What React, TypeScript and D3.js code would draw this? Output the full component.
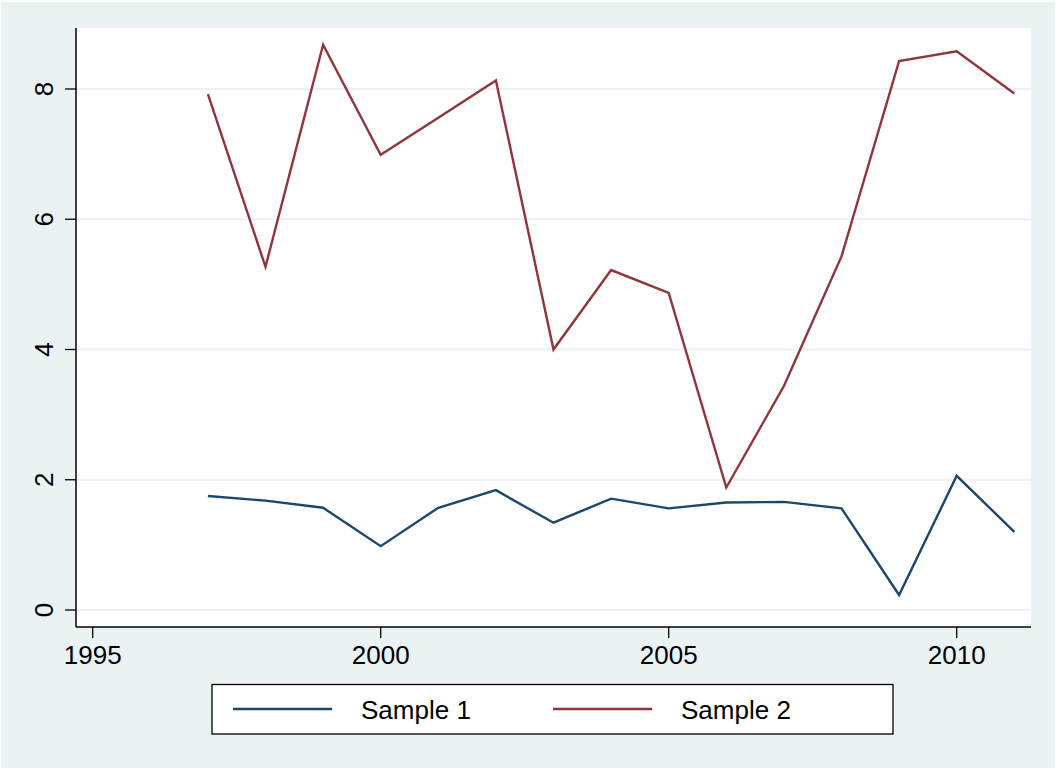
import React from 'react';
import * as d3 from 'd3';

const years = [1997, 1998, 1999, 2000, 2001, 2002, 2003, 2004, 2005, 2006, 2007, 2008, 2009, 2010, 2011];
const sample1 = [1.75, 1.68, 1.57, 0.98, 1.57, 1.84, 1.34, 1.71, 1.56, 1.65, 1.66, 1.56, 0.23, 2.06, 1.2];
const sample2 = [7.92, 5.27, 8.68, 6.99, 7.56, 8.13, 4.0, 5.22, 4.87, 1.88, 3.44, 5.43, 8.43, 8.58, 7.93];
const xTicks = [1995, 2000, 2005, 2010];
const yTicks = [0, 2, 4, 6, 8];
const seriesNames = ['Sample 1', 'Sample 2'];

const colors = ['#1a476f', '#90353b'];
const bg = '#eaf2f3';
const font = '"Liberation Sans", Arial, Helvetica, sans-serif';

const W = 1056;
const H = 769;
// plot region
const plot = { left: 76, right: 1031, top: 28, bottom: 627 };

export default function App() {
  // scale fitted to the axis range shown (1994.7 .. 2011.3, -0.26 .. 8.94)
  const x = d3.scaleLinear().domain([1995, 2010]).range([92.7, 956.7]);
  const y = d3.scaleLinear().domain([0, 8]).range([610, 89]);

  const line = d3.line<number>()
    .x((_, i) => x(years[i]))
    .y(d => y(d));

  const series = [sample1, sample2];

  return (
    <svg width={W} height={H} style={{ position: 'absolute', left: 0, top: 0 }} fontFamily={font}>
      <rect x={0} y={0} width={W} height={H} fill="#fff" />
      <rect x={1} y={2} width={W - 2} height={H - 3} fill={bg} />
      <rect x={plot.left} y={plot.top} width={plot.right - plot.left} height={plot.bottom - plot.top} fill="#fff" />

      {/* grid */}
      {yTicks.map(t => (
        <line key={'g' + t} x1={plot.left} x2={plot.right} y1={y(t)} y2={y(t)} stroke={bg} strokeWidth={2} />
      ))}

      {/* series */}
      {series.map((s, i) => (
        <path key={i} d={line(s) || ''} fill="none" stroke={colors[i]} strokeWidth={2.4} strokeLinejoin="miter" />
      ))}

      {/* y axis */}
      <line x1={plot.left} x2={plot.left} y1={plot.top} y2={plot.bottom} stroke="#000" strokeWidth={1.5} />
      {yTicks.map(t => (
        <g key={'y' + t}>
          <line x1={plot.left - 11} x2={plot.left} y1={y(t)} y2={y(t)} stroke="#000" strokeWidth={1.3} />
          <text transform={`translate(53,${y(t)}) rotate(-90)`} textAnchor="middle" fontSize={26} fill="#000">
            {t}
          </text>
        </g>
      ))}

      {/* x axis */}
      <line x1={plot.left} x2={plot.right} y1={plot.bottom} y2={plot.bottom} stroke="#000" strokeWidth={1.5} />
      {xTicks.map(t => (
        <g key={'x' + t}>
          <line x1={x(t)} x2={x(t)} y1={plot.bottom} y2={plot.bottom + 11} stroke="#000" strokeWidth={1.3} />
          <text x={x(t)} y={664} textAnchor="middle" fontSize={26} fill="#000">
            {t}
          </text>
        </g>
      ))}

      {/* legend */}
      <rect x={212} y={684.5} width={681} height={49.5} fill="#fff" stroke="#000" strokeWidth={1.3} />
      {seriesNames.map((n, i) => (
        <g key={n} transform={`translate(${233 + i * 320},0)`}>
          <line x1={0} x2={99} y1={709} y2={709} stroke={colors[i]} strokeWidth={2.4} />
          <text x={128} y={718.5} fontSize={26} fill="#000">{n}</text>
        </g>
      ))}
    </svg>
  );
}
